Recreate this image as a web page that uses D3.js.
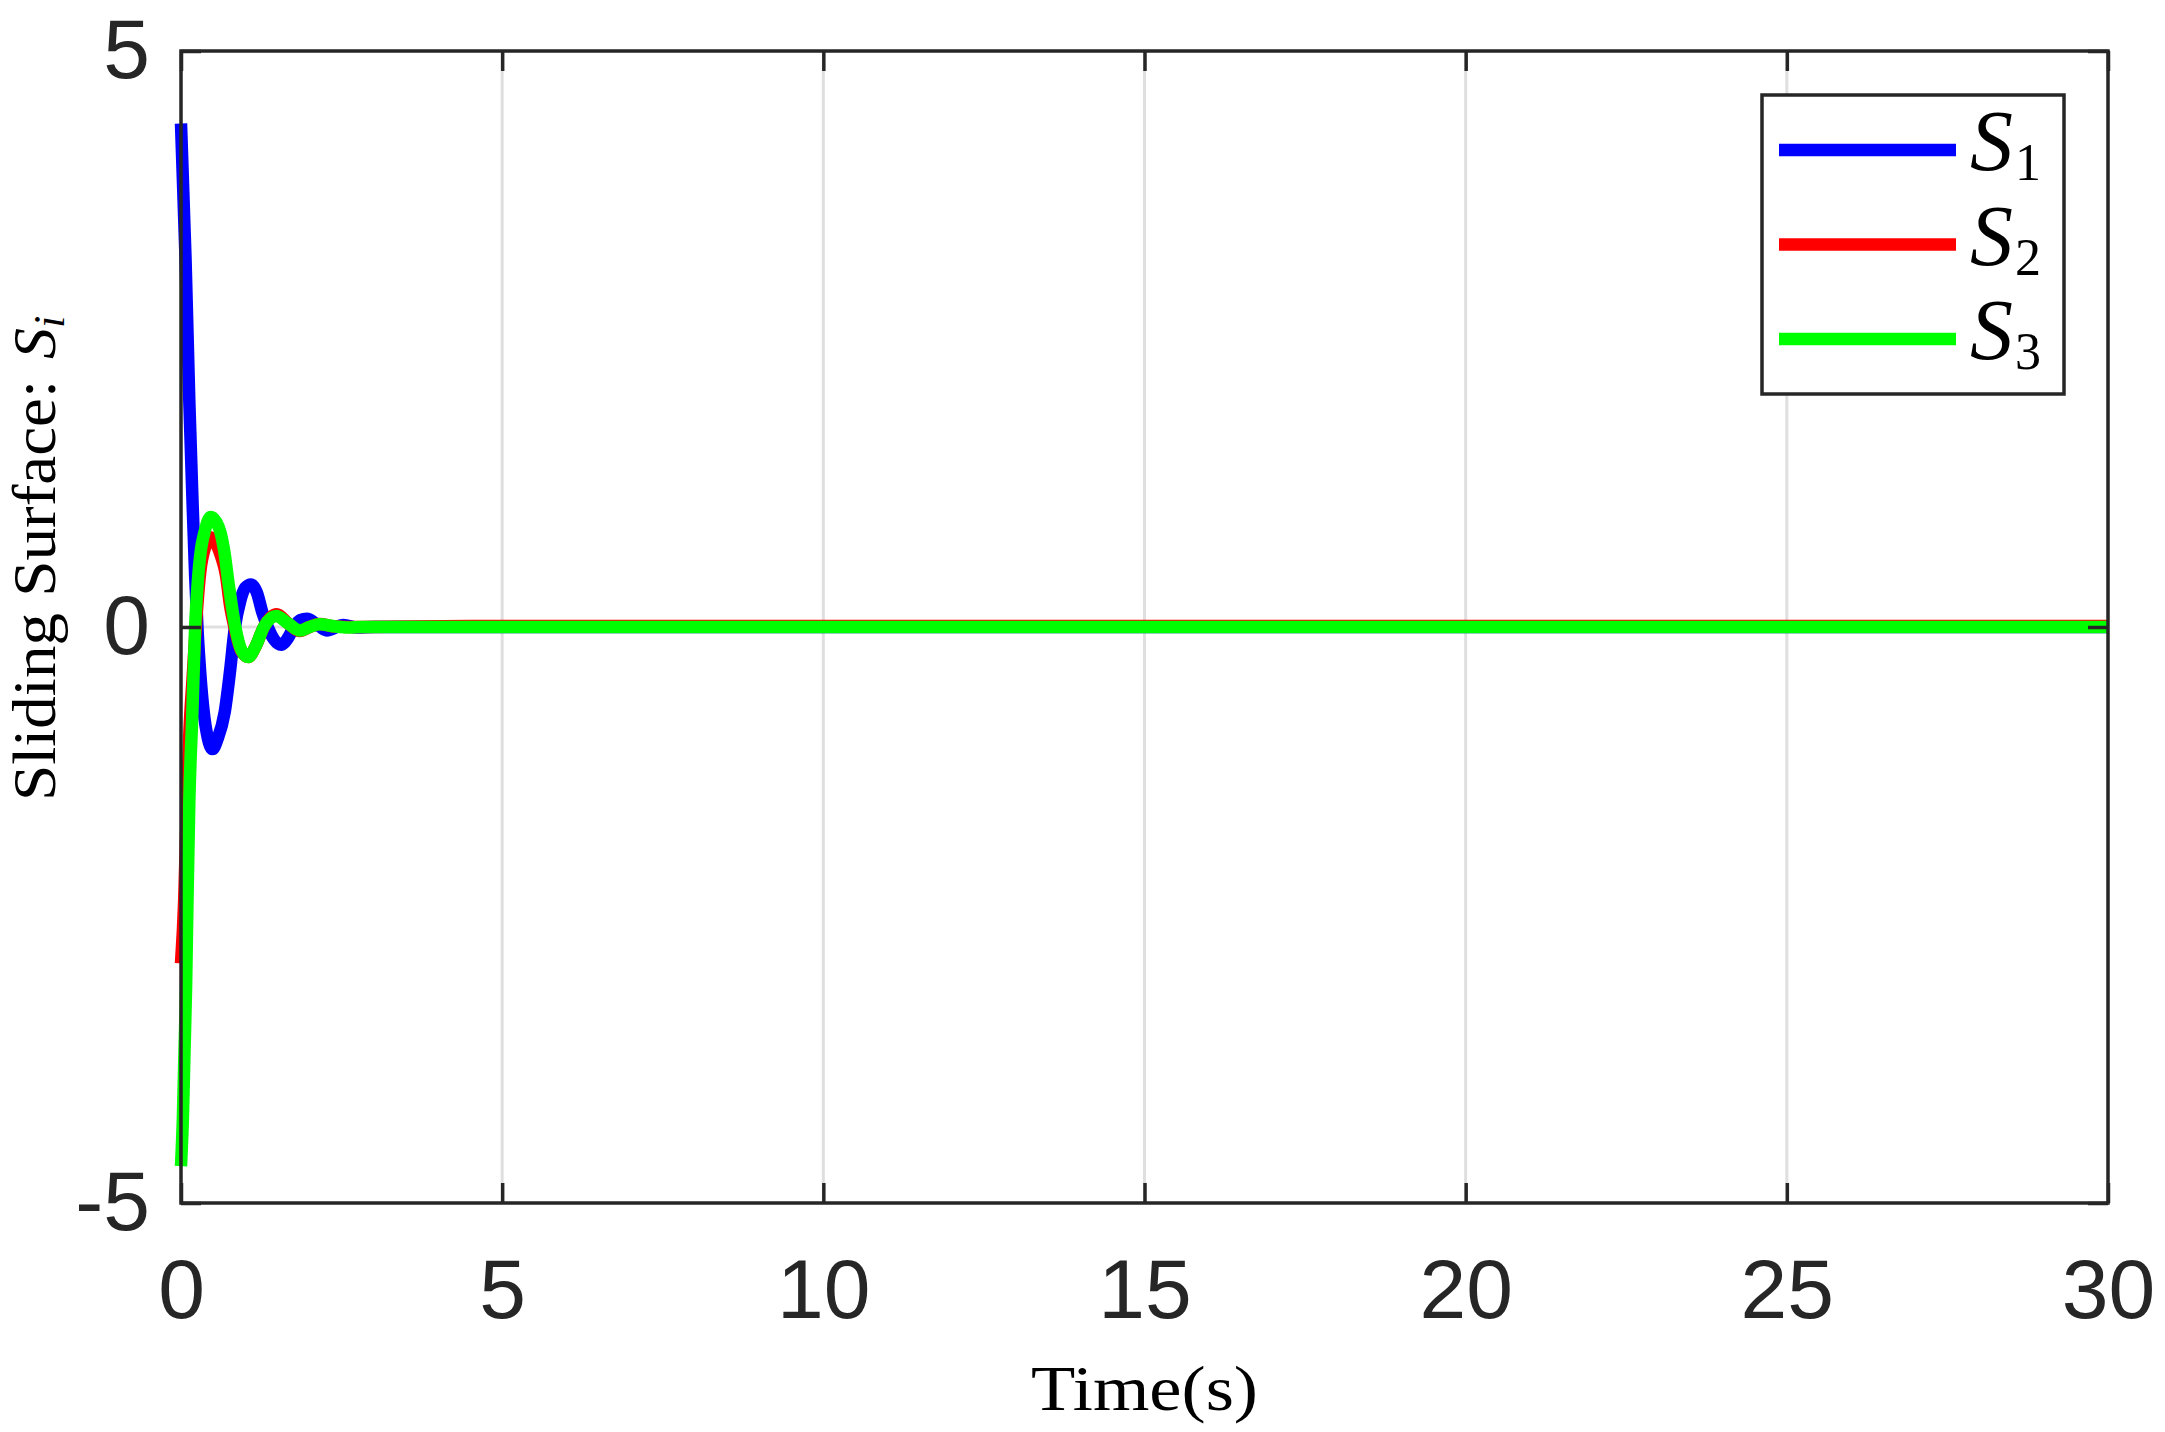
<!DOCTYPE html>
<html>
<head>
<meta charset="utf-8">
<script src="https://cdn.jsdelivr.net/npm/d3@7"></script>
<style>
  html, body { margin: 0; padding: 0; background: #ffffff; }
  svg { display: block; }
</style>
</head>
<body>
<svg id="chart" width="2165" height="1432"></svg>
<script>
// ---------------- data ----------------
const xTicks = [0, 5, 10, 15, 20, 25, 30];
const yTicks = [-5, 0, 5];
const seriesNames = ["S1", "S2", "S3"];
const seriesColors = ["#0000ff", "#ff0000", "#00ff00"];

const s1Time   = [0, 0.07, 0.13, 0.18, 0.22, 0.26, 0.30, 0.35, 0.42, 0.49, 0.57, 0.68, 0.76, 0.84, 0.92, 1.00, 1.09, 1.18, 1.27, 1.35, 1.45, 1.56, 1.66, 1.76, 1.86, 1.96, 2.10, 2.27, 2.53, 2.74, 3.0, 30];
const s1Values = [4.37, 3.21, 1.95, 1.08, 0.45, -0.05, -0.40, -0.72, -0.97, -1.06, -0.97, -0.74, -0.40, 0.0, 0.22, 0.34, 0.37, 0.30, 0.12, 0.0, -0.11, -0.154, -0.10, 0.0, 0.06, 0.072, 0.03, -0.03, 0.017, -0.005, 0.0, 0.0];

const s2Time   = [0, 0.05, 0.093, 0.13, 0.18, 0.23, 0.30, 0.38, 0.46, 0.55, 0.62, 0.70, 0.76, 0.845, 0.94, 1.05, 1.16, 1.29, 1.49, 1.67, 1.85, 2.0, 2.16, 2.4, 2.8, 4.5, 30];
const s2Values = [-2.92, -2.37, -1.50, -0.92, -0.45, 0.0, 0.48, 0.70, 0.78, 0.72, 0.62, 0.45, 0.20, -0.03, -0.21, -0.26, -0.17, 0.0, 0.11, 0.03, -0.035, 0.0, 0.025, 0.005, 0.0, 0.008, 0.008];

const s3Time   = [0, 0.03, 0.055, 0.08, 0.10, 0.13, 0.175, 0.22, 0.26, 0.31, 0.36, 0.46, 0.55, 0.62, 0.67, 0.74, 0.845, 0.94, 1.05, 1.16, 1.29, 1.48, 1.67, 1.85, 2.0, 2.16, 2.4, 2.6, 2.8, 30];
const s3Values = [-4.68, -4.25, -3.67, -3.10, -2.40, -1.50, -0.78, 0.0, 0.38, 0.67, 0.81, 0.955, 0.91, 0.81, 0.67, 0.38, 0.0, -0.20, -0.26, -0.17, 0.0, 0.095, 0.03, -0.03, 0.0, 0.023, 0.005, -0.004, 0.0, 0.0];

// ---------------- layout ----------------
const W = 2165, H = 1432;
const plot = { left: 181, right: 2108, top: 51, bottom: 1203 };
const axisColor = "#262626";
const gridColor = "#dfdfdf";

const svg = d3.select("#chart");
svg.append("rect").attr("width", W).attr("height", H).attr("fill", "#ffffff");

const x = d3.scaleLinear().domain([0, 30]).range([plot.left, plot.right]);
const y = d3.scaleLinear().domain([-5, 5]).range([plot.bottom, plot.top]);

// grid
const grid = svg.append("g");
grid.selectAll("line.gx").data(xTicks.filter(t => t > 0 && t < 30)).enter()
  .append("line")
  .attr("x1", d => x(d)).attr("x2", d => x(d))
  .attr("y1", plot.top).attr("y2", plot.bottom)
  .attr("stroke", gridColor).attr("stroke-width", 3);
grid.selectAll("line.gy").data(yTicks.filter(t => t > -5 && t < 5)).enter()
  .append("line")
  .attr("x1", plot.left).attr("x2", plot.right)
  .attr("y1", d => y(d)).attr("y2", d => y(d))
  .attr("stroke", gridColor).attr("stroke-width", 3);

// series
const series = [
  { t: s1Time, v: s1Values },
  { t: s2Time, v: s2Values },
  { t: s3Time, v: s3Values }
];
const line = d3.line()
  .x(d => x(d[0]))
  .y(d => y(d[1]))
  .curve(d3.curveMonotoneX);

series.forEach((s, i) => {
  const pts = s.t.map((t, k) => [t, s.v[k]]);
  svg.append("path")
    .datum(pts)
    .attr("d", line)
    .attr("fill", "none")
    .attr("stroke", seriesColors[i])
    .attr("stroke-width", 12.5)
    .attr("stroke-linejoin", "round")
    .attr("stroke-linecap", "butt");
});

// axes
const tickFont = "'Liberation Sans', Arial, Helvetica, sans-serif";
const fmt = d => String(d);

const gx = svg.append("g").attr("transform", `translate(0,${plot.bottom})`)
  .call(d3.axisBottom(x).tickValues(xTicks).tickFormat(fmt).tickSizeInner(-20).tickSizeOuter(0).tickPadding(55));
const gxTop = svg.append("g").attr("transform", `translate(0,${plot.top})`)
  .call(d3.axisTop(x).tickValues(xTicks).tickFormat("").tickSizeInner(-20).tickSizeOuter(0));
const gy = svg.append("g").attr("transform", `translate(${plot.left},0)`)
  .call(d3.axisLeft(y).tickValues(yTicks).tickFormat(fmt).tickSizeInner(-20).tickSizeOuter(0).tickPadding(31));
const gyR = svg.append("g").attr("transform", `translate(${plot.right},0)`)
  .call(d3.axisRight(y).tickValues(yTicks).tickFormat("").tickSizeInner(-20).tickSizeOuter(0));

[gx, gxTop, gy, gyR].forEach(g => {
  g.select(".domain").remove();
  g.selectAll(".tick line").attr("stroke", axisColor).attr("stroke-width", 3.5);
  g.selectAll(".tick text")
    .attr("fill", axisColor)
    .style("font-family", tickFont)
    .style("font-size", "84px");
});

// box
svg.append("rect")
  .attr("x", plot.left).attr("y", plot.top)
  .attr("width", plot.right - plot.left).attr("height", plot.bottom - plot.top)
  .attr("fill", "none").attr("stroke", axisColor).attr("stroke-width", 3.5);

// axis labels (serif, LaTeX-like)
const serif = "'Liberation Serif', 'DejaVu Serif', serif";
svg.append("text")
  .attr("x", (plot.left + plot.right) / 2)
  .attr("y", 1410)
  .attr("text-anchor", "middle")
  .style("font-family", serif)
  .style("font-size", "64px")
  .attr("fill", "#000")
  .attr("textLength", 227)
  .attr("lengthAdjust", "spacingAndGlyphs")
  .text("Time(s)");

const yl = svg.append("g").attr("transform", "translate(55,801) rotate(-90)");
yl.append("text")
  .attr("x", 0).attr("y", 0)
  .style("font-family", serif)
  .style("font-size", "62px")
  .attr("fill", "#000")
  .attr("textLength", 421)
  .attr("lengthAdjust", "spacingAndGlyphs")
  .text("Sliding Surface:");
const ys = yl.append("text")
  .attr("x", 442).attr("y", 0)
  .style("font-family", serif)
  .style("font-size", "62px")
  .style("font-style", "italic")
  .attr("fill", "#000");
ys.append("tspan").text("S");
ys.append("tspan").attr("dy", 9).style("font-size", "44px").text("i");

// legend
const lg = svg.append("g");
lg.append("rect")
  .attr("x", 1762).attr("y", 95).attr("width", 302).attr("height", 299)
  .attr("fill", "#ffffff").attr("stroke", axisColor).attr("stroke-width", 3.5);
const legendRowY = d3.scaleLinear().domain([0, 2]).range([150, 339]);
seriesNames.forEach((name, i) => {
  const ry = legendRowY(i);
  lg.append("line")
    .attr("x1", 1779).attr("x2", 1956)
    .attr("y1", ry).attr("y2", ry)
    .attr("stroke", seriesColors[i]).attr("stroke-width", 12.5);
  const t = lg.append("text")
    .attr("x", 1970).attr("y", ry + 20)
    .style("font-family", serif)
    .style("font-size", "86px")
    .attr("fill", "#000");
  t.append("tspan").style("font-style", "italic").text(name.charAt(0));
  t.append("tspan").attr("dx", 2).attr("dy", 10).style("font-size", "52px").text(name.slice(1));
});
</script>
</body>
</html>
